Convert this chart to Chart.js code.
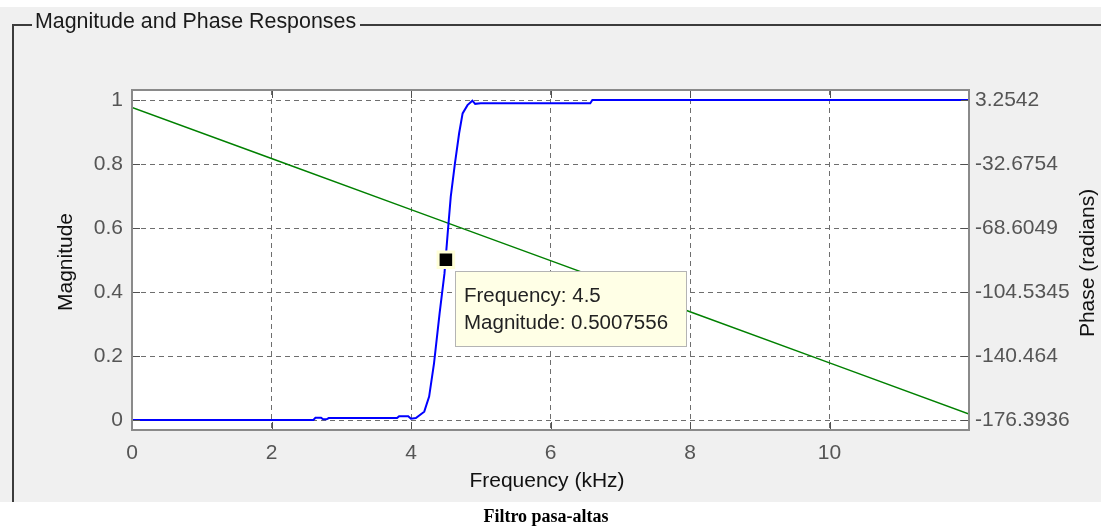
<!DOCTYPE html>
<html><head><meta charset="utf-8">
<script src="https://cdn.jsdelivr.net/npm/chart.js@4/dist/chart.umd.min.js"></script>
<style>html,body{margin:0;padding:0;background:#fff;overflow:hidden}#c{display:block}</style>
</head><body>
<canvas id="c" width="1101" height="529"></canvas>
<script>
// ---- data ----
const magFreq = [0, 2.6, 2.63, 2.71, 2.74, 2.79, 2.82, 3.8, 3.83, 3.96, 4.0, 4.07, 4.19, 4.26, 4.33, 4.41, 4.48, 4.53, 4.57, 4.63, 4.69, 4.74, 4.81, 4.88, 4.92, 5.0, 6.57, 6.6, 12];
const magVals = [0, 0, 0.007, 0.007, 0.002, 0.002, 0.006, 0.006, 0.012, 0.012, 0.004, 0.006, 0.026, 0.073, 0.177, 0.333, 0.458, 0.594, 0.698, 0.802, 0.896, 0.958, 0.984, 0.998, 0.988, 0.99, 0.99, 1.0, 1.0];
const phaseFreq = [0, 2, 4, 6, 8, 10, 12];
const phaseVals = [-0.9, -29.6, -58.3, -86.9, -115.6, -144.3, -173.0];
const freqTicks = [0, 2, 4, 6, 8, 10];
const freqTickLabels = ['0', '2', '4', '6', '8', '10'];
const magTicks = [0, 0.2, 0.4, 0.6, 0.8, 1];
const magTickLabels = ['0', '0.2', '0.4', '0.6', '0.8', '1'];
const phaseTicks = [-176.3936, -140.464, -104.5345, -68.6049, -32.6754, 3.2542];
const phaseTickLabels = ['-176.3936', '-140.464', '-104.5345', '-68.6049', '-32.6754', '3.2542'];
const markerFreq = [4.5];
const markerMag = [0.5007556];
const tooltipLines = ['Frequency: 4.5', 'Magnitude: 0.5007556'];
const panelTitle = 'Magnitude and Phase Responses';
const xTitle = 'Frequency (kHz)';
const yTitle = 'Magnitude';
const y2Title = 'Phase (radians)';
const caption = 'Filtro pasa-altas';

// ---- scale ranges ----
const magMin = -0.03125, magMax = 1.03125;
const pB = phaseTicks[0], pT = phaseTicks[phaseTicks.length - 1];
const phaseMin = pB + magMin * (pT - pB), phaseMax = pB + magMax * (pT - pB);

const FONT = '"Liberation Sans", Arial, sans-serif';
const TICKCOL = '#555555';
const GRIDCOL = '#6e6e6e';

function pts(xs, ys) { return xs.map((x, i) => ({ x: x, y: ys[i] })); }
function setTicks(arr) { return function (scale) { scale.ticks = arr.map(v => ({ value: v })); }; }

const decor = {
  id: 'decor',
  beforeDraw(chart) {
    const ctx = chart.ctx, a = chart.chartArea;
    ctx.save();
    ctx.fillStyle = '#ffffff';
    ctx.fillRect(0, 0, chart.width, chart.height);
    ctx.fillStyle = '#f0f0f0';
    ctx.fillRect(0, 7, chart.width, 495);
    // group box frame
    ctx.strokeStyle = '#3c3c3c';
    ctx.lineWidth = 2;
    ctx.beginPath();
    ctx.moveTo(13, 502); ctx.lineTo(13, 25); ctx.lineTo(32, 25);
    ctx.moveTo(360, 25); ctx.lineTo(chart.width, 25);
    ctx.stroke();
    ctx.fillStyle = '#1a1a1a';
    ctx.font = '21.4px ' + FONT;
    ctx.textBaseline = 'alphabetic';
    ctx.textAlign = 'left';
    ctx.fillText(panelTitle, 35, 28);
    // plot background
    ctx.fillStyle = '#ffffff';
    ctx.fillRect(a.left, a.top, a.right - a.left, a.bottom - a.top);
    // axis titles
    ctx.fillStyle = '#111111';
    ctx.font = '21px ' + FONT;
    ctx.textAlign = 'center';
    ctx.textBaseline = 'middle';
    ctx.fillText(xTitle, 547, 481);
    ctx.save(); ctx.translate(66, 262); ctx.rotate(-Math.PI / 2); ctx.fillText(yTitle, 0, 0); ctx.restore();
    ctx.save(); ctx.translate(1088, 263); ctx.rotate(-Math.PI / 2); ctx.fillText(y2Title, 0, 0); ctx.restore();
    // caption
    ctx.fillStyle = '#000000';
    ctx.font = 'bold 18px "Liberation Serif", "Times New Roman", serif';
    ctx.fillText(caption, 546, 517);
    ctx.restore();
  },
  afterDatasetsDraw(chart) {
    const ctx = chart.ctx, a = chart.chartArea;
    const xs = chart.scales.x, ys = chart.scales.y;
    ctx.save();
    ctx.strokeStyle = '#505050';
    ctx.lineWidth = 1;
    ctx.beginPath();
    freqTicks.forEach(v => {
      const px = Math.round(xs.getPixelForValue(v)) + 0.5;
      ctx.moveTo(px, a.bottom); ctx.lineTo(px, a.bottom - 8);
      ctx.moveTo(px, a.top); ctx.lineTo(px, a.top + 8);
    });
    magTicks.forEach(v => {
      const py = Math.round(ys.getPixelForValue(v)) + 0.5;
      ctx.moveTo(a.left, py); ctx.lineTo(a.left + 8, py);
      ctx.moveTo(a.right, py); ctx.lineTo(a.right - 8, py);
    });
    ctx.stroke();
    ctx.strokeStyle = '#8a8a8a';
    ctx.lineWidth = 2;
    ctx.strokeRect(a.left, a.top, a.right - a.left, a.bottom - a.top);
    ctx.restore();
  },
  afterDraw(chart) {
    const ctx = chart.ctx;
    const px = chart.scales.x.getPixelForValue(markerFreq[0]);
    const py = chart.scales.y.getPixelForValue(markerMag[0]);
    const bx = Math.round(px) + 9, by = Math.round(py) + 11, bw = 232, bh = 76;
    ctx.save();
    ctx.fillStyle = '#ffffe6';
    ctx.fillRect(bx, by, bw, bh);
    ctx.strokeStyle = '#b4b4b4';
    ctx.lineWidth = 1;
    ctx.strokeRect(bx + 0.5, by + 0.5, bw - 1, bh - 1);
    ctx.fillStyle = '#222222';
    ctx.font = '20.5px ' + FONT;
    ctx.textAlign = 'left';
    ctx.textBaseline = 'middle';
    ctx.fillText(tooltipLines[0], bx + 9, by + 25);
    ctx.fillText(tooltipLines[1], bx + 9, by + 52);
    ctx.restore();
  }
};

new Chart(document.getElementById('c'), {
  type: 'line',
  data: {
    datasets: [
      { data: pts(markerFreq, markerMag), yAxisID: 'y', showLine: false, pointStyle: 'rect', pointRadius: 11, pointBackgroundColor: '#000000', pointBorderColor: '#ffffd8', pointBorderWidth: 3, order: 0 },
      { data: pts(magFreq, magVals), yAxisID: 'y', borderColor: '#0000ff', borderWidth: 2, pointRadius: 0, tension: 0, fill: false, order: 1 },
      { data: pts(phaseFreq, phaseVals), yAxisID: 'y2', borderColor: '#008000', borderWidth: 1.5, pointRadius: 0, tension: 0, fill: false, order: 2 }
    ]
  },
  options: {
    responsive: false,
    animation: false,
    events: [],
    layout: { padding: { top: 90, left: 0, right: 0, bottom: 0 } },
    plugins: { legend: { display: false }, tooltip: { enabled: false } },
    scales: {
      x: {
        type: 'linear', min: 0, max: 12,
        afterBuildTicks: setTicks(freqTicks),
        afterFit: s => { s.height = 99; },
        border: { display: false, dash: [5, 4] },
        grid: { color: GRIDCOL, lineWidth: 1, drawTicks: false },
        ticks: { padding: 11, color: TICKCOL, font: { family: FONT, size: 21 }, maxRotation: 0, callback: (v, i) => freqTickLabels[i] }
      },
      y: {
        type: 'linear', position: 'left', min: magMin, max: magMax,
        afterBuildTicks: setTicks(magTicks),
        afterFit: s => { s.width = 132; },
        border: { display: false, dash: [5, 4] },
        grid: { color: GRIDCOL, lineWidth: 1, drawTicks: false },
        ticks: { padding: 9, color: TICKCOL, font: { family: FONT, size: 21 }, callback: (v, i) => magTickLabels[i] }
      },
      y2: {
        type: 'linear', position: 'right', min: phaseMin, max: phaseMax,
        afterBuildTicks: setTicks(phaseTicks),
        afterFit: s => { s.width = 132; },
        border: { display: false },
        grid: { drawOnChartArea: false, drawTicks: false },
        ticks: { padding: 6, color: TICKCOL, font: { family: FONT, size: 21 }, callback: (v, i) => phaseTickLabels[i] }
      }
    }
  },
  plugins: [decor]
});
</script>
</body></html>
